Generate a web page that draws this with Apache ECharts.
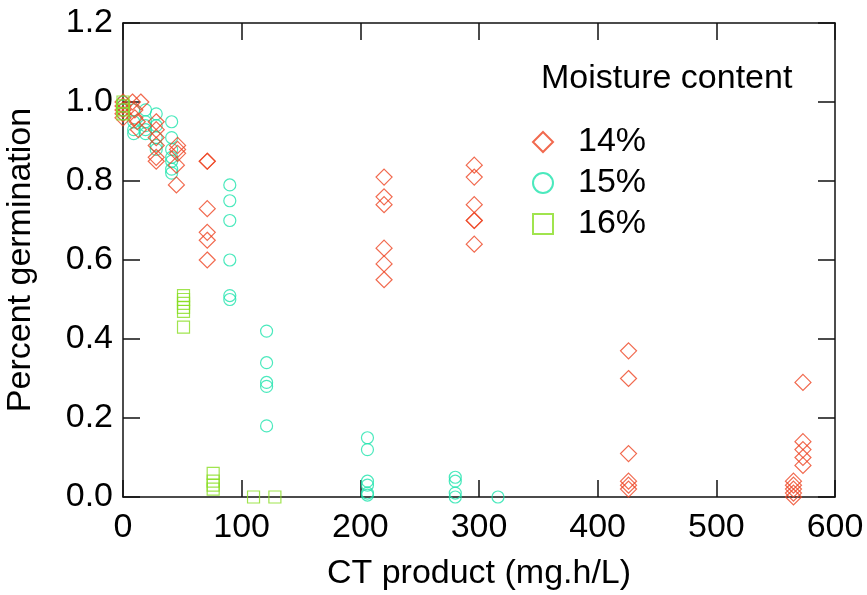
<!DOCTYPE html>
<html>
<head>
<meta charset="utf-8">
<script src="https://cdn.jsdelivr.net/npm/echarts@6/dist/echarts.min.js"></script>
<style>html,body{margin:0;padding:0;background:#fff}#c{width:867px;height:595px}</style>
</head>
<body>
<div id="c"></div>
<script>
// CT product (mg.h/L), percent germination
const mc14 = [
  [0,0.96],[0,0.97],[0,0.98],[0,0.99],[0,1.0],
  [8,1.0],[10,0.98],[10,0.96],[13,0.93],[15,1.0],[12,0.95],
  [28,0.95],[28,0.93],[28,0.91],[28,0.89],[28,0.86],[28,0.85],
  [46,0.89],[46,0.88],[46,0.87],[45,0.84],[45,0.79],
  [71,0.85],[71,0.85],[71,0.73],[71,0.67],[71,0.65],[71,0.60],
  [220,0.81],[220,0.76],[220,0.74],[220,0.63],[220,0.59],[220,0.55],
  [296,0.84],[296,0.81],[296,0.74],[296,0.70],[296,0.70],[296,0.64],
  [426,0.37],[426,0.30],[426,0.11],[426,0.04],[426,0.03],[426,0.02],
  [565,0.04],[565,0.03],[565,0.02],[565,0.01],[565,0.0],
  [573,0.29],[573,0.14],[573,0.12],[573,0.10],[573,0.08]
];
const mc15 = [
  [0,1.0],[0,0.99],[0,0.98],[0,0.97],
  [9,0.98],[9,0.95],[9,0.93],[9,0.92],
  [19,0.98],[19,0.95],[19,0.94],[19,0.93],[19,0.92],
  [28,0.97],[28,0.94],[28,0.91],[28,0.89],[28,0.88],
  [41,0.95],[41,0.91],[41,0.88],[41,0.86],[41,0.85],[41,0.83],[41,0.82],
  [90,0.79],[90,0.75],[90,0.70],[90,0.60],[90,0.51],[90,0.50],
  [121,0.42],[121,0.34],[121,0.29],[121,0.28],[121,0.18],
  [206,0.15],[206,0.12],[206,0.04],[206,0.03],[206,0.01],[206,0.005],
  [280,0.05],[280,0.04],[280,0.01],[280,0.0],
  [316,0.0]
];
const mc16 = [
  [0,1.0],[0,0.99],[0,0.98],[0,0.97],
  [51,0.51],[51,0.50],[51,0.49],[51,0.48],[51,0.47],[51,0.43],
  [76,0.06],[76,0.04],[76,0.03],[76,0.02],
  [110,0.0],[128,0.0]
];
const seriesNames = ['14%','15%','16%'];
const xTicks = [0,100,200,300,400,500,600];
const yTicks = [0,0.2,0.4,0.6,0.8,1.0,1.2];

const FONT = 'Liberation Sans, Arial, sans-serif';
const FS = 34;
const colors = ['#ee4422','#1ee4ac','#88dd22'];

const chart = echarts.init(document.getElementById('c'));
function hollow(c){return {color:'rgba(255,255,255,0)',borderColor:c,borderWidth:1.2};}
function axLine(){return {show:true,onZero:false,lineStyle:{color:'#111',width:1.5}};}
function axTick(){return {show:true,inside:true,length:17,lineStyle:{color:'#111',width:1.5}};}
chart.setOption({
  animation:false,
  backgroundColor:'#fff',
  title:{text:'Moisture content',left:536,top:57,textStyle:{fontFamily:FONT,fontSize:FS,fontWeight:'normal',color:'#000'}},
  legend:{
    data:[{name:seriesNames[0],icon:'diamond'},{name:seriesNames[1],icon:'circle'},{name:seriesNames[2],icon:'rect'}],
    orient:'vertical',left:527,top:119,itemWidth:20,itemHeight:20,itemGap:5,
    textStyle:{fontFamily:FONT,fontSize:FS,color:'#000',lineHeight:36,padding:[0,0,0,20]}
  },
  grid:{left:123,right:32,top:23,bottom:98,containLabel:false,outerBoundsMode:'none'},
  xAxis:[{
    type:'value',min:xTicks[0],max:xTicks[xTicks.length-1],interval:100,
    name:'CT product (mg.h/L)',nameLocation:'middle',nameGap:60,
    nameTextStyle:{fontFamily:FONT,fontSize:FS,color:'#000'},
    axisLine:axLine(),axisTick:axTick(),
    axisLabel:{fontFamily:FONT,fontSize:FS,color:'#000',margin:14},
    splitLine:{show:false}
  },{
    type:'value',position:'top',min:0,max:600,interval:100,
    axisLine:axLine(),axisTick:axTick(),
    axisLabel:{show:false},splitLine:{show:false}
  }],
  yAxis:[{
    type:'value',min:yTicks[0],max:yTicks[yTicks.length-1],interval:0.2,
    name:'Percent germination',nameLocation:'middle',nameGap:85,
    nameTextStyle:{fontFamily:FONT,fontSize:FS,color:'#000'},
    axisLine:axLine(),axisTick:axTick(),
    axisLabel:{fontFamily:FONT,fontSize:FS,color:'#000',margin:10,formatter:v=>v.toFixed(1)},
    splitLine:{show:false}
  },{
    type:'value',position:'right',min:0,max:1.2,interval:0.2,
    axisLine:axLine(),axisTick:axTick(),
    axisLabel:{show:false},splitLine:{show:false}
  }],
  series:[
    {name:seriesNames[0],type:'scatter',symbol:'diamond',symbolSize:16,data:mc14,itemStyle:hollow(colors[0]),z:3},
    {name:seriesNames[1],type:'scatter',symbol:'circle',symbolSize:12,data:mc15,itemStyle:hollow(colors[1]),z:2},
    {name:seriesNames[2],type:'scatter',symbol:'rect',symbolSize:12,data:mc16,itemStyle:hollow(colors[2]),z:4}
  ]
});
</script>
</body>
</html>
